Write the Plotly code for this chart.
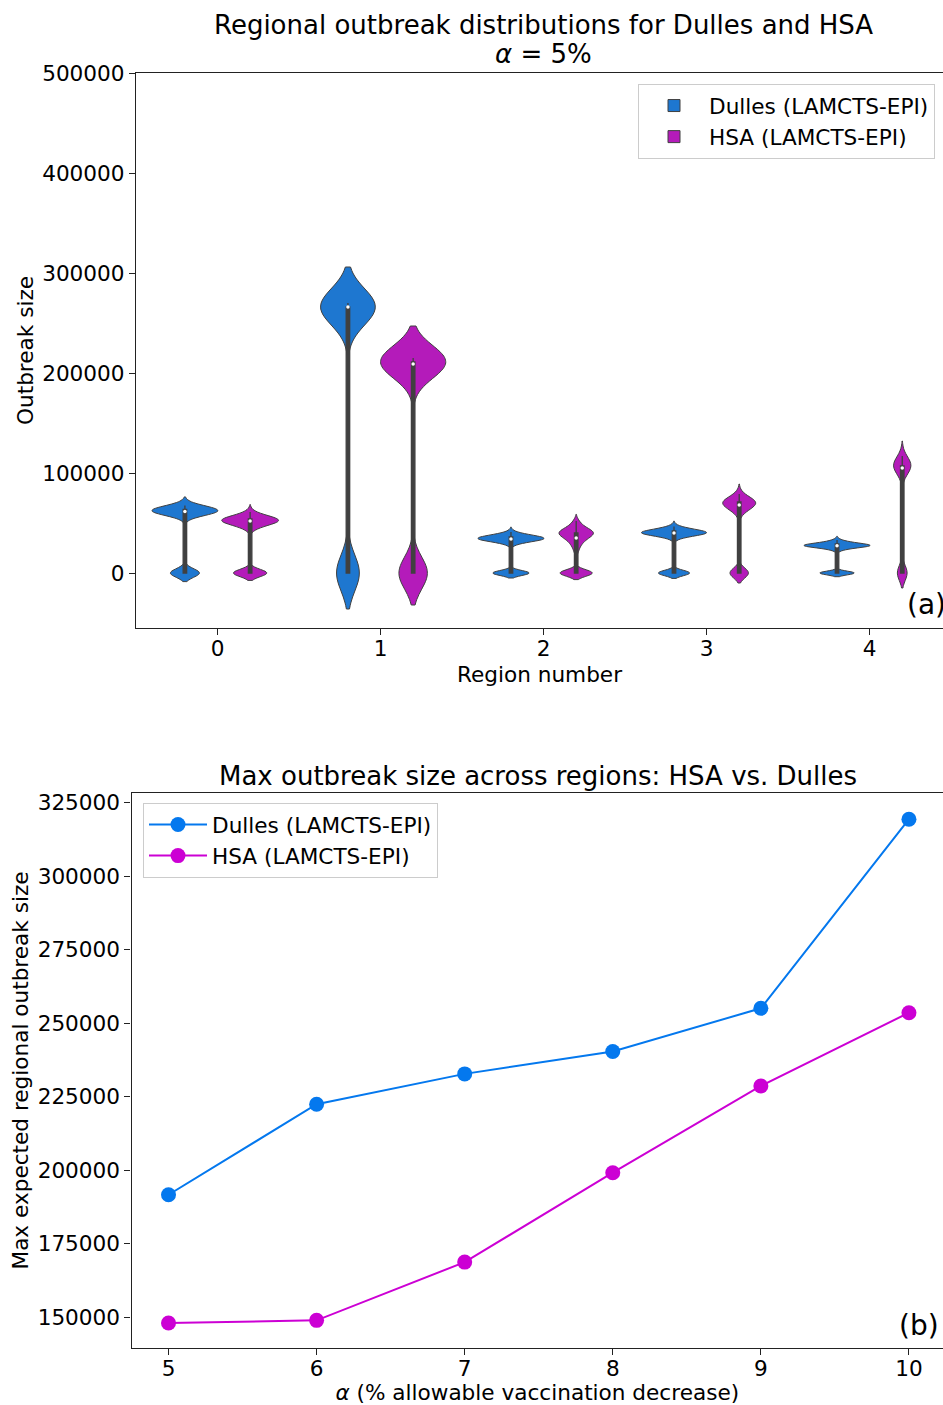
import numpy as np
import plotly.graph_objects as go

# ---------------- data ----------------
regions = [0, 1, 2, 3, 4]
series_names = ["Dulles (LAMCTS-EPI)", "HSA (LAMCTS-EPI)"]

# outbreak-size samples per region (value list + how many runs gave that value)
dulles_r0_vals = [0, 57500, 59500, 61500, 63500, 65500, 67500]
dulles_r0_counts = [28, 3, 10, 26, 20, 10, 3]
dulles_r1_vals = [0, 258000, 263000, 266000, 270000]
dulles_r1_counts = [29, 6, 12, 30, 23]
dulles_r2_vals = [0, 29000, 32000, 34000, 36000, 38000, 41000]
dulles_r2_counts = [20, 3, 9, 18, 12, 8, 2]
dulles_r3_vals = [0, 35000, 38000, 40000, 42000, 44000, 46500]
dulles_r3_counts = [19, 3, 10, 20, 12, 6, 2]
dulles_r4_vals = [0, 23000, 25500, 27300, 29000, 31000, 33000]
dulles_r4_counts = [18, 3, 9, 20, 12, 5, 2]

hsa_r0_vals = [0, 45000, 49000, 52000, 54000, 57000, 61000]
hsa_r0_counts = [21, 4, 10, 14, 12, 8, 2]
hsa_r1_vals = [0, 205000, 209000, 211000, 215000]
hsa_r1_counts = [30, 8, 14, 28, 20]
hsa_r2_vals = [0, 22000, 28000, 33000, 37000, 40000, 43000, 47000, 52000]
hsa_r2_counts = [25, 3, 5, 8, 10, 12, 10, 6, 3]
hsa_r3_vals = [0, 60000, 64000, 68000, 71000, 74000, 79000]
hsa_r3_counts = [20, 3, 7, 12, 14, 9, 3]
hsa_r4_vals = [0, 98000, 103000, 107000, 111000, 117000]
hsa_r4_counts = [20, 3, 8, 16, 11, 4]

top_yticks = [0, 100000, 200000, 300000, 400000, 500000]

alpha_pct = [5, 6, 7, 8, 9, 10]
dulles_max = [191700, 222500, 232800, 240400, 255100, 319400]
hsa_max = [148100, 149000, 168800, 199200, 228700, 253600]
bottom_yticks = [150000, 175000, 200000, 225000, 250000, 275000, 300000, 325000]

# ---------------- styles ----------------
FONT = "DejaVu Sans"
FS = 21.6
GRAY = "#404040"
AX = "#222222"
violin_fill = ["#1e77d0", "#b41bba"]
line_col = ["#0478ee", "#cc00d4"]
dodge = [-0.2, 0.2]
kde_bw = [[4300, 18000, 2500, 2700, 1850], [3700, 16000, 3300, 5000, 7500]]
violin_px = [[65.6, 54.3, 66, 65, 66], [56.7, 65, 34.3, 32.7, 17.3]]
PX_PER_UNIT = 162.7
BOX_PX = 3.5

W, H = 943, 1405

samples = [
    [(dulles_r0_vals, dulles_r0_counts), (dulles_r1_vals, dulles_r1_counts),
     (dulles_r2_vals, dulles_r2_counts), (dulles_r3_vals, dulles_r3_counts),
     (dulles_r4_vals, dulles_r4_counts)],
    [(hsa_r0_vals, hsa_r0_counts), (hsa_r1_vals, hsa_r1_counts),
     (hsa_r2_vals, hsa_r2_counts), (hsa_r3_vals, hsa_r3_counts),
     (hsa_r4_vals, hsa_r4_counts)],
]

fig = go.Figure()

for s, name in enumerate(series_names):
    meds_x, meds_y = [], []
    for r in regions:
        vals, cnts = samples[s][r]
        y = np.repeat(np.array(vals, dtype=float), cnts)
        wunits = violin_px[s][r] / PX_PER_UNIT
        fig.add_trace(go.Violin(
            x0=r + dodge[s], y=y, width=wunits, bandwidth=kde_bw[s][r],
            scalegroup=f"{s}-{r}", scalemode="width", spanmode="soft", side="both",
            fillcolor=violin_fill[s], line=dict(color=GRAY, width=1), opacity=1,
            box=dict(visible=True, width=BOX_PX / violin_px[s][r], fillcolor=GRAY,
                     line=dict(color=GRAY, width=1.3)),
            meanline=dict(visible=False), points=False,
            name=name, legendgroup=name, showlegend=(r == 0), legend="legend",
            xaxis="x", yaxis="y", hoverinfo="skip"))
        meds_x.append(r + dodge[s])
        meds_y.append(float(np.median(y)))
    fig.add_trace(go.Scatter(x=meds_x, y=meds_y, mode="markers",
                             marker=dict(color="white", size=3.5),
                             showlegend=False, xaxis="x", yaxis="y", hoverinfo="skip"))

for s, (name, yv) in enumerate(zip(series_names, [dulles_max, hsa_max])):
    fig.add_trace(go.Scatter(x=alpha_pct, y=yv, mode="lines+markers", name=name,
                             line=dict(color=line_col[s], width=2),
                             marker=dict(color=line_col[s], size=15),
                             xaxis="x2", yaxis="y2", legend="legend2"))

axis_common = dict(showline=True, linecolor=AX, linewidth=1.2, mirror=True,
                   ticks="outside", ticklen=6, tickwidth=1.2, tickcolor=AX,
                   showgrid=False, zeroline=False, automargin=False,
                   tickfont=dict(family=FONT, size=FS, color="black"))

fig.update_layout(
    width=W, height=H, template="none",
    margin=dict(l=0, r=0, t=0, b=0),
    paper_bgcolor="white", plot_bgcolor="white",
    font=dict(family=FONT, size=FS, color="black"),
    violinmode="overlay",
    xaxis=dict(domain=[136 / W, 1.0], range=[-0.5, 4.45], anchor="y",
               tickvals=regions, ticktext=[str(r) for r in regions], ticklabelstandoff=-5,
               title=dict(text="Region number", font=dict(family=FONT, size=FS), standoff=6),
               **axis_common),
    yaxis=dict(domain=[1 - 628 / H, 1 - 73 / H], range=[-55000, 500000], anchor="x",
               tickvals=top_yticks, ticktext=[str(v) for v in top_yticks],
               title=dict(text="Outbreak size", font=dict(family=FONT, size=FS), standoff=2),
               **axis_common),
    xaxis2=dict(domain=[131.5 / W, 1.0], range=[4.75, 10.23], anchor="y2",
                tickvals=alpha_pct, ticktext=[str(a) for a in alpha_pct], ticklabelstandoff=-5,
                title=dict(text="<i>α</i> (% allowable vaccination decrease)",
                           font=dict(family=FONT, size=FS), standoff=6),
                **axis_common),
    yaxis2=dict(domain=[1 - 1348 / H, 1 - 793 / H], range=[139600, 328300], anchor="x2",
                tickvals=bottom_yticks, ticktext=[str(v) for v in bottom_yticks],
                title=dict(text="Max expected regional outbreak size",
                           font=dict(family=FONT, size=FS), standoff=3),
                **axis_common),
    legend=dict(x=638 / W, y=1 - 84 / H, xanchor="left", yanchor="top",
                bgcolor="rgba(255,255,255,0.8)", bordercolor="#cccccc", borderwidth=1,
                font=dict(family=FONT, size=FS), tracegroupgap=0, itemwidth=60),
    legend2=dict(x=143 / W, y=1 - 803 / H, xanchor="left", yanchor="top",
                 bgcolor="rgba(255,255,255,0.8)", bordercolor="#cccccc", borderwidth=1,
                 font=dict(family=FONT, size=FS), itemwidth=58),
    annotations=[
        dict(text="Regional outbreak distributions for Dulles and HSA", x=543 / W, y=1 - 25 / H,
             xref="paper", yref="paper", xanchor="center", yanchor="middle", showarrow=False,
             font=dict(family=FONT, size=26)),
        dict(text="<i>α</i> = 5%", x=543 / W, y=1 - 54 / H,
             xref="paper", yref="paper", xanchor="center", yanchor="middle", showarrow=False,
             font=dict(family=FONT, size=26)),
        dict(text="Max outbreak size across regions: HSA vs. Dulles", x=538 / W, y=1 - 776 / H,
             xref="paper", yref="paper", xanchor="center", yanchor="middle", showarrow=False,
             font=dict(family=FONT, size=26)),
        dict(text="(a)", x=905 / W, y=1 - 604 / H, xref="paper", yref="paper",
             xanchor="left", yanchor="middle", showarrow=False, font=dict(family=FONT, size=28)),
        dict(text="(b)", x=897 / W, y=1 - 1325 / H, xref="paper", yref="paper",
             xanchor="left", yanchor="middle", showarrow=False, font=dict(family=FONT, size=28)),
    ],
)

fig.write_html("out.html", config={"displayModeBar": False},
               post_script="document.body.style.margin='0';document.body.style.overflow='hidden';")
